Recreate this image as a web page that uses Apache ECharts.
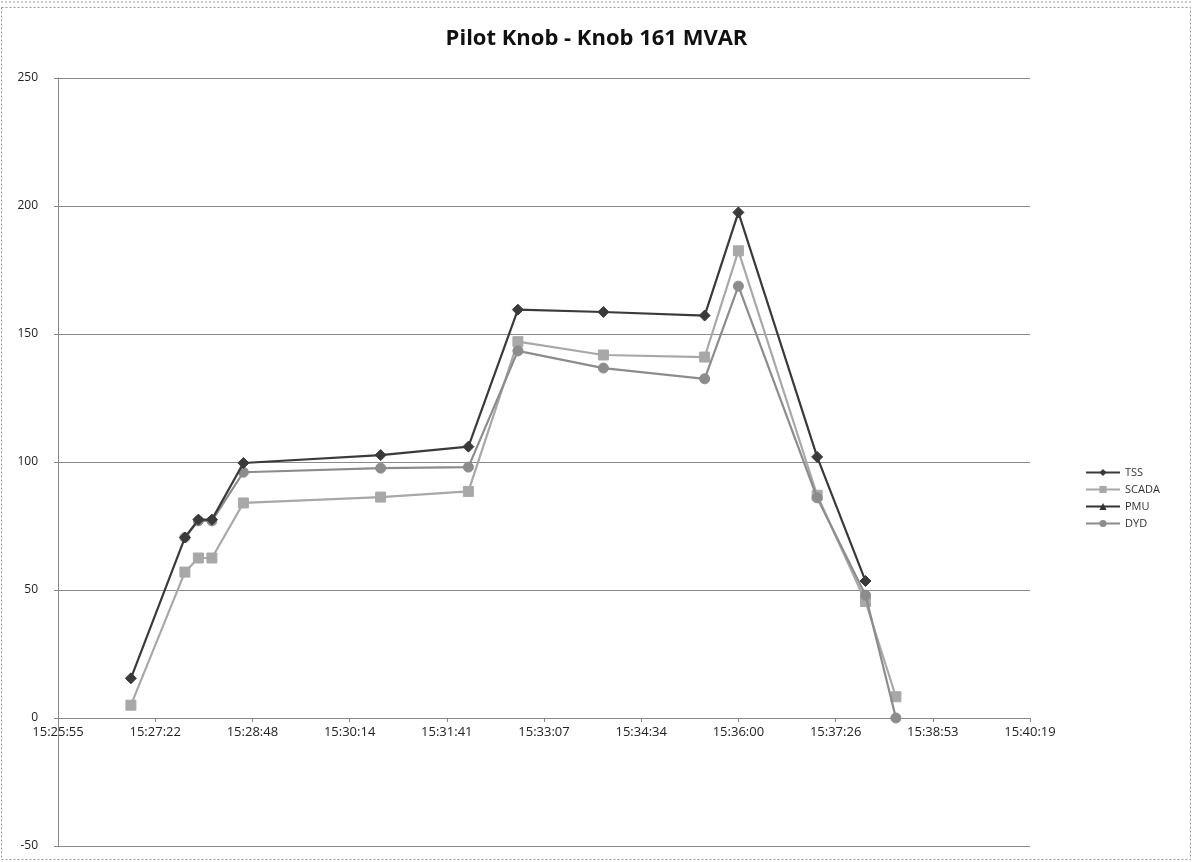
<!DOCTYPE html>
<html>
<head>
<meta charset="utf-8">
<script src="https://cdn.jsdelivr.net/npm/echarts@6/dist/echarts.min.js"></script>
<style>
html,body{margin:0;padding:0;background:#fff;}
#chart{width:1193px;height:862px;}
</style>
</head>
<body>
<div id="chart"></div>
<script>
// ---- data ----
var times = ['15:27:00','15:27:48','15:28:00','15:28:12','15:28:40','15:30:42','15:32:00','15:32:44','15:34:00','15:35:30','15:36:00','15:37:10','15:37:53','15:38:20'];
var tss   = [15.5, 70.5, 77.5, 77.5, 99.6, 102.7, 106, 159.5, 158.6, 157.2, 197.5, 102, 53.5, null];
var scada = [5, 57, 62.5, 62.5, 84, 86.3, 88.5, 147, 141.8, 141, 182.5, 87, 45.5, 8.3];
var pmu   = [null, null, null, null, null, null, null, null, null, null, null, null, null, null];
var dyd   = [null, 70.5, 77, 77, 96, 97.6, 98, 143.4, 136.7, 132.5, 168.7, 86, 48, 0];
var seriesNames = ['TSS', 'SCADA', 'PMU', 'DYD'];
var yTicks = [-50, 0, 50, 100, 150, 200, 250];

// x axis in seconds since midnight; Excel-style ticks every 0.001 day (86.4 s)
var X_INTERVAL = 86.4;
var X_MIN = 643 * X_INTERVAL;   // 15:25:55
var X_MAX = 653 * X_INTERVAL;   // 15:40:19

function toSec(s){var p=s.split(':');return (+p[0])*3600+(+p[1])*60+(+p[2]);}
function pad(n){return (n<10?'0':'')+n;}
function fmt(v){var s=Math.round(v);var h=Math.floor(s/3600);var m=Math.floor((s%3600)/60);var ss=s%60;return h+':'+pad(m)+':'+pad(ss);}
function pairs(vals){var out=[];for(var i=0;i<times.length;i++){if(vals[i]!==null&&vals[i]!==undefined){out.push([toSec(times[i]),vals[i]]);}}return out;}

var chart = echarts.init(document.getElementById('chart'));
var font = 'Open Sans, Liberation Sans, sans-serif';

var GRID_TOP = 78, GRID_BOTTOM = 16, CH = 862;
var plotH = CH - GRID_TOP - GRID_BOTTOM;
// place the x axis where y = 0 (as in the reference)
var zeroOffset = -plotH * (0 - yTicks[0]) / (yTicks[yTicks.length-1] - yTicks[0]);

function mkSeries(name, vals, color, symbol, size, z){
  return {
    name: name, type: 'line', data: pairs(vals),
    symbol: symbol, symbolSize: size, showSymbol: true, z: z,
    lineStyle: {color: color, width: 2.2},
    itemStyle: {color: color, borderColor: color},
    emphasis: {disabled: true},
    animation: false
  };
}

chart.setOption({
  animation: false,
  backgroundColor: '#fff',
  title: {
    text: 'Pilot Knob - Knob 161 MVAR',
    left: 'center', top: 23,
    textStyle: {fontFamily: font, fontSize: 22, fontWeight: 'bold', color: '#111'}
  },
  grid: {left: 58, right: 163, top: GRID_TOP, bottom: GRID_BOTTOM, containLabel: false},
  legend: {
    orient: 'vertical', left: 1080, top: 462,
    itemWidth: 34, itemHeight: 9, itemGap: 6,
    data: seriesNames,
    textStyle: {fontFamily: font, fontSize: 11, color: '#333'}
  },
  xAxis: {
    type: 'value', min: X_MIN, max: X_MAX, interval: X_INTERVAL,
    offset: zeroOffset,
    axisLine: {onZero: false, lineStyle: {color: '#888', width: 1}},
    axisTick: {show: true, inside: false, length: 4, lineStyle: {color: '#888'}},
    splitLine: {show: false},
    axisLabel: {
      formatter: fmt, showMinLabel: true, showMaxLabel: true,
      fontFamily: font, fontSize: 13, color: '#222', margin: 8
    }
  },
  yAxis: {
    type: 'value', min: yTicks[0], max: yTicks[yTicks.length-1], interval: 50,
    axisLine: {show: true, onZero: false, lineStyle: {color: '#888', width: 1}},
    axisTick: {show: true, length: 4, lineStyle: {color: '#888'}},
    splitLine: {show: true, lineStyle: {color: '#8a8a8a', width: 1}},
    axisLabel: {fontFamily: font, fontSize: 12, color: '#222', margin: 20}
  },
  graphic: [
    {type: 'line', shape: {x1: 1, y1: 2, x2: 1191, y2: 2}, style: {stroke: '#999', lineWidth: 1, lineDash: [2, 2]}},
    {type: 'rect', shape: {x: 1.5, y: 7.5, width: 1189, height: 852}, style: {fill: 'none', stroke: '#999', lineWidth: 1, lineDash: [2, 2]}}
  ],
  series: [
    mkSeries('TSS', tss, '#3a3a3a', 'diamond', 11, 4),
    mkSeries('SCADA', scada, '#a8a8a8', 'rect', 10, 2),
    mkSeries('PMU', pmu, '#333333', 'triangle', 10, 1),
    mkSeries('DYD', dyd, '#8c8c8c', 'circle', 10, 3)
  ]
});
</script>
</body>
</html>
